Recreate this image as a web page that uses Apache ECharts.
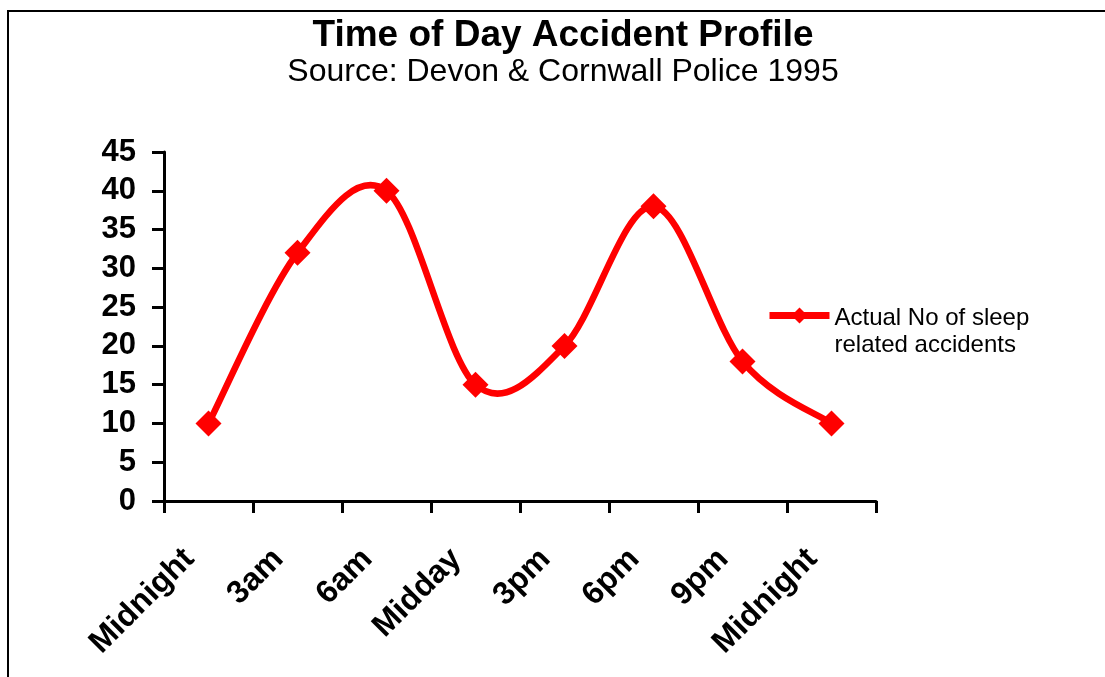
<!DOCTYPE html>
<html>
<head>
<meta charset="utf-8">
<script src="https://cdn.jsdelivr.net/npm/echarts@6/dist/echarts.min.js"></script>
<style>
html,body{margin:0;padding:0;background:#fff;}
#chart{width:1105px;height:677px;}
</style>
</head>
<body>
<div id="chart"></div>
<script>
const titleText = 'Time of Day Accident Profile';
const subtitleText = 'Source: Devon & Cornwall Police 1995';
const seriesName = 'Actual No of sleep\nrelated accidents';
const categories = ['Midnight', '3am', '6am', 'Midday', '3pm', '6pm', '9pm', 'Midnight'];
const values = [10, 32, 40, 15, 20, 38, 18, 10];
const yMin = 0;
const yMax = 45;
const yInterval = 5;

const FONT = '"Liberation Sans", Arial, sans-serif';
const RED = '#ff0000';

// Excel-style smoothed curve (Catmull-Rom / Bezier with 1/6 tangents), one segment per point pair
function renderSegment(params, api) {
  const i = params.dataIndex;
  const n = values.length;
  if (i >= n - 1) return null;
  const pt = k => {
    const kk = Math.max(0, Math.min(n - 1, k));
    return api.coord([kk, values[kk]]);
  };
  const p0 = pt(i - 1), p1 = pt(i), p2 = pt(i + 1), p3 = pt(i + 2);
  return {
    type: 'bezierCurve',
    shape: {
      x1: p1[0], y1: p1[1],
      x2: p2[0], y2: p2[1],
      cpx1: p1[0] + (p2[0] - p0[0]) / 6, cpy1: p1[1] + (p2[1] - p0[1]) / 6,
      cpx2: p2[0] - (p3[0] - p1[0]) / 6, cpy2: p2[1] - (p3[1] - p1[1]) / 6
    },
    style: {stroke: RED, lineWidth: 6.5, fill: null, lineCap: 'round'},
    silent: true
  };
}

const chart = echarts.init(document.getElementById('chart'), null, {renderer: 'canvas'});
chart.setOption({
  backgroundColor: '#ffffff',
  animation: false,
  graphic: [{
    type: 'rect',
    shape: {x: 8, y: 11, width: 1300, height: 900},
    style: {fill: 'none', stroke: '#000', lineWidth: 2},
    silent: true,
    z: -1
  }],
  title: [{
    text: titleText,
    left: 563,
    top: 17,
    textAlign: 'center',
    padding: 0,
    textStyle: {fontFamily: FONT, fontWeight: 'bold', fontSize: 37, color: '#000'}
  }, {
    text: subtitleText,
    left: 563,
    top: 56,
    textAlign: 'center',
    padding: 0,
    textStyle: {fontFamily: FONT, fontWeight: 'normal', fontSize: 32, color: '#000'}
  }],
  legend: {
    left: 766,
    top: 272,
    padding: 0,
    itemWidth: 60,
    itemHeight: 20,
    data: [seriesName],
    formatter: name => '{g| }\n' + name,
    lineStyle: {color: RED, width: 7, opacity: 1},
    itemStyle: {color: RED, opacity: 1},
    textStyle: {
      fontFamily: FONT, fontSize: 24, color: '#000', lineHeight: 27,
      rich: {g: {fontFamily: FONT, fontSize: 24, lineHeight: 33}}
    }
  },
  grid: {left: 164, right: 229, top: 152, bottom: 176, containLabel: false},
  xAxis: {
    type: 'category',
    data: categories,
    boundaryGap: true,
    axisLine: {lineStyle: {color: '#000', width: 3}},
    axisTick: {show: true, inside: false, length: 12, interval: 0, lineStyle: {color: '#000', width: 3}},
    axisLabel: {interval: 0, rotate: 45, margin: 34, padding: [0, 27, 0, 0], fontFamily: FONT, fontWeight: 'bold', fontSize: 32, color: '#000'},
    splitLine: {show: false}
  },
  yAxis: {
    type: 'value',
    min: yMin,
    max: yMax,
    interval: yInterval,
    axisLine: {show: true, lineStyle: {color: '#000', width: 3}},
    axisTick: {show: true, inside: false, length: 12, lineStyle: {color: '#000', width: 3}},
    axisLabel: {margin: 28, fontFamily: FONT, fontWeight: 'bold', fontSize: 31, color: '#000'},
    splitLine: {show: false}
  },
  series: [{
    name: 'curve',
    type: 'custom',
    coordinateSystem: 'cartesian2d',
    data: values.map((v, i) => [i, v]),
    encode: {x: 0, y: 1},
    renderItem: renderSegment,
    z: 1
  }, {
    name: seriesName,
    type: 'line',
    data: values,
    smooth: false,
    symbol: 'diamond',
    symbolSize: 26,
    lineStyle: {color: RED, width: 6, opacity: 0},
    itemStyle: {color: RED},
    z: 2
  }]
});
</script>
</body>
</html>
